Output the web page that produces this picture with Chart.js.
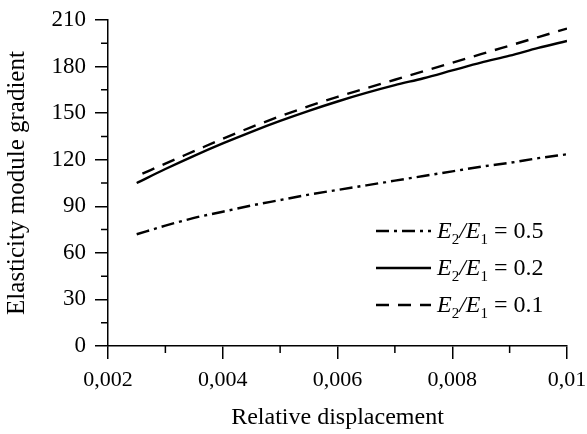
<!DOCTYPE html>
<html>
<head>
<meta charset="utf-8">
<script src="https://cdn.jsdelivr.net/npm/chart.js@4.4.1/dist/chart.umd.min.js"></script>
<style>
    html, body { margin: 0; padding: 0; background: #fff; }
    #wrap { width: 587px; height: 434px; }
</style>
</head>
<body>
<div id="wrap"><canvas id="chart"></canvas></div>
<script>
// ---- data ----
const displacement = [0.0025, 0.003, 0.0035, 0.004, 0.0045, 0.005, 0.0055, 0.006, 0.0065, 0.007, 0.0075, 0.008, 0.0085, 0.009, 0.0095, 0.01];
const displacement01 = [0.0026, 0.003, 0.0035, 0.004, 0.0045, 0.005, 0.0055, 0.006, 0.0065, 0.007, 0.0075, 0.008, 0.0085, 0.009, 0.0095, 0.01];
const gradient05 = [72, 77.5, 82.5, 86.5, 90.5, 94, 97.5, 100.5, 103.5, 106.5, 109.5, 112.5, 115.5, 118, 121, 123.5];
const gradient02 = [105, 114, 122.5, 130.5, 138, 145, 151.5, 157.5, 163, 168, 172.5, 177.5, 182.5, 187, 192, 196.5];
const gradient01 = [111, 117.5, 125.5, 133.5, 141, 148, 154.5, 160.5, 166, 171.5, 177, 182.5, 188, 193.5, 199, 204.5];

const ratioValues = ['0.5', '0.2', '0.1'];
const xTickValues = [0.002, 0.004, 0.006, 0.008, 0.01];
const xTickLabels = ['0,002', '0,004', '0,006', '0,008', '0,01'];
const xMinorTicks = [0.003, 0.005, 0.007, 0.009];
const yTickValues = [0, 30, 60, 90, 120, 150, 180, 210];
const yMinorTicks = [15, 45, 75, 105, 135, 165, 195];

const INK = '#000';
const SERIF = '"Liberation Serif", "DejaVu Serif", serif';
const DASHES = [[13, 5, 3, 5], [], [13, 9]];

const toPoints = (xs, ys) => xs.map((x, i) => ({ x, y: ys[i] }));

// 副目盛りと凡例（添字付き）は自前で描く
const extrasPlugin = {
    id: 'extras',
    afterDraw(chart) {
        const ctx = chart.ctx;
        const xs = chart.scales.x, ys = chart.scales.y;
        ctx.save();
        ctx.strokeStyle = INK;
        ctx.lineWidth = 1.5;
        ctx.beginPath();
        xMinorTicks.forEach(v => {
            const px = xs.getPixelForValue(v);
            ctx.moveTo(px, xs.top);
            ctx.lineTo(px, xs.top + 7);
        });
        yMinorTicks.forEach(v => {
            const py = ys.getPixelForValue(v);
            ctx.moveTo(ys.right, py);
            ctx.lineTo(ys.right - 7, py);
        });
        ctx.stroke();

        // legend
        const rows = [231, 268, 305];
        ratioValues.forEach((r, i) => {
            const y = rows[i];
            ctx.setLineDash(DASHES[i]);
            ctx.lineWidth = 2.4;
            ctx.beginPath();
            ctx.moveTo(376, y);
            ctx.lineTo(431, y);
            ctx.stroke();
            ctx.setLineDash([]);

            const base = y + 7;
            let x = 437;
            ctx.fillStyle = INK;
            ctx.textBaseline = 'alphabetic';
            ctx.textAlign = 'left';
            const put = (t, font, dy) => {
                ctx.font = font;
                ctx.fillText(t, x, base + dy);
                x += ctx.measureText(t).width;
            };
            put('E', 'italic 24px ' + SERIF, 0);
            put('2', '15px ' + SERIF, 6);
            put('/', 'italic 24px ' + SERIF, 0);
            put('E', 'italic 24px ' + SERIF, 0);
            put('1', '15px ' + SERIF, 6);
            put(' = ' + r, '24px ' + SERIF, 0);
        });
        ctx.restore();
    }
};

const baseLine = (data, dash) => ({
    data,
    borderColor: INK,
    borderWidth: 2.4,
    borderDash: dash,
    pointRadius: 0,
    cubicInterpolationMode: 'monotone',
    fill: false
});

new Chart(document.getElementById('chart'), {
    type: 'line',
    data: {
        datasets: [
            baseLine(toPoints(displacement, gradient05), DASHES[0]),
            baseLine(toPoints(displacement, gradient02), DASHES[1]),
            baseLine(toPoints(displacement01, gradient01), DASHES[2])
        ]
    },
    options: {
        responsive: true,
        maintainAspectRatio: false,
        animation: false,
        layout: { padding: { top: 20, right: 20, left: 0, bottom: 0 } },
        plugins: { legend: { display: false }, tooltip: { enabled: false } },
        scales: {
            x: {
                type: 'linear',
                min: 0.002,
                max: 0.01,
                afterBuildTicks: s => { s.ticks = xTickValues.map(v => ({ value: v })); },
                afterFit: s => { s.height = 88; s.paddingRight = 0; s.paddingLeft = 0; },
                ticks: {
                    color: INK,
                    font: { family: SERIF, size: 22 },
                    padding: 8,
                    maxRotation: 0,
                    callback: (v) => xTickLabels[xTickValues.indexOf(v)]
                },
                grid: { drawOnChartArea: false, drawTicks: true, tickLength: 13, color: INK, lineWidth: 1.5 },
                border: { display: true, color: INK, width: 1.5 },
                title: {
                    display: true,
                    text: 'Relative displacement',
                    color: INK,
                    font: { family: SERIF, size: 24 },
                    padding: { top: 0, bottom: 2 }
                }
            },
            y: {
                min: 0,
                max: 210,
                afterBuildTicks: s => { s.ticks = yTickValues.map(v => ({ value: v })); },
                afterFit: s => { s.width = 108; s.paddingTop = 0; s.paddingBottom = 0; },
                ticks: {
                    color: INK,
                    font: { family: SERIF, size: 23 },
                    padding: 9
                },
                grid: { drawOnChartArea: false, drawTicks: true, tickLength: 13, color: INK, lineWidth: 1.5 },
                border: { display: true, color: INK, width: 1.5 },
                title: {
                    display: true,
                    text: 'Elasticity module gradient',
                    color: INK,
                    font: { family: SERIF, size: 25 },
                    padding: { top: 2, bottom: 0 }
                }
            }
        }
    },
    plugins: [extrasPlugin]
});
</script>
</body>
</html>
